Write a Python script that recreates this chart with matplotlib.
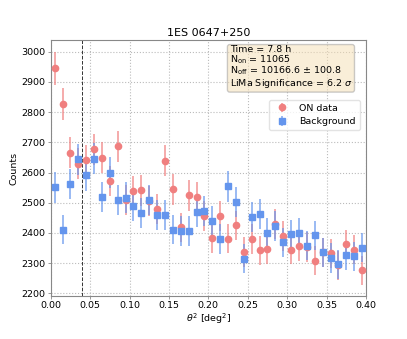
import numpy as np
import matplotlib
matplotlib.use("Agg")
import matplotlib.pyplot as plt

# theta^2 bin centres [deg^2]
theta2 = np.arange(0.005, 0.4, 0.01)

# counts
on_counts = np.array([2945, 2828, 2666, 2629, 2640, 2677, 2649, 2572, 2687, 2508,
                      2538, 2541, 2505, 2478, 2639, 2544, 2418, 2524, 2518, 2457,
                      2382, 2456, 2381, 2425, 2337, 2380, 2342, 2347, 2429, 2390,
                      2344, 2357, 2353, 2308, 2336, 2332, 2293, 2362, 2344, 2276])
bg_counts = np.array([2551, 2411, 2562, 2644, 2591, 2646, 2518, 2600, 2510, 2517,
                      2488, 2465, 2510, 2460, 2460, 2411, 2406, 2406, 2469, 2472,
                      2440, 2380, 2554, 2503, 2314, 2454, 2463, 2399, 2423, 2369,
                      2395, 2399, 2358, 2392, 2336, 2317, 2296, 2326, 2323, 2351])

theta2_cut = 0.04
title = "1ES 0647+250"
info_lines = ["Time = 7.8 h",
              r"N$_{\rm on}$ = 11065",
              r"N$_{\rm off}$ = 10166.6 $\pm$ 100.8",
              r"LiMa Significance = 6.2 $\sigma$"]

on_col = "#f07f7f"
bg_col = "#6495ed"

fig = plt.figure(figsize=(4.07, 3.39), dpi=100)
ax = fig.add_axes([0.1246, 0.1277, 0.7746, 0.7534])

# statistical errors (sqrt N)
eb = ax.errorbar(theta2, on_counts, yerr=np.sqrt(on_counts), fmt="o", color=on_col,
                 ms=4.5, elinewidth=1.3, ecolor=on_col, label="ON data", zorder=3)
eb[2][0].set_alpha(0.7)
eb = ax.errorbar(theta2, bg_counts, yerr=np.sqrt(bg_counts), fmt="s", color=bg_col,
                 ms=4.5, elinewidth=1.3, ecolor=bg_col, label="Background", zorder=3)
eb[2][0].set_alpha(0.7)

ax.axvline(theta2_cut, color="#333333", ls="--", lw=0.7, zorder=2)

ax.set_xlim(0, 0.4)
ax.set_ylim(2192, 3038)
ax.set_xticks(np.arange(0, 0.41, 0.05))
ax.set_yticks(np.arange(2200, 3001, 100))
ax.grid(True, ls=":", color="#bbbbbb", lw=0.8)
ax.tick_params(labelsize=6.8, length=2.5, width=0.6, color="#888888", pad=1.5)
for sp in ax.spines.values():
    sp.set_color("#888888")
    sp.set_linewidth(0.8)

ax.set_xlabel(r"$\theta^2$ [deg$^2$]", fontsize=6.8, labelpad=1)
ax.set_ylabel("Counts", fontsize=6.8, labelpad=2)
ax.set_title(title, fontsize=8, pad=3)

ax.text(0.568, 0.982, "\n".join(info_lines), transform=ax.transAxes, fontsize=6.8,
        va="top", ha="left", linespacing=0.92,
        bbox=dict(boxstyle="round,pad=0.25", facecolor="wheat", alpha=0.5, edgecolor="#999999"))

ax.legend(loc="upper right", bbox_to_anchor=(0.995, 0.785), fontsize=6.8,
          frameon=True, framealpha=0.8, edgecolor="#dddddd")

fig.savefig("out.png", dpi=100)
